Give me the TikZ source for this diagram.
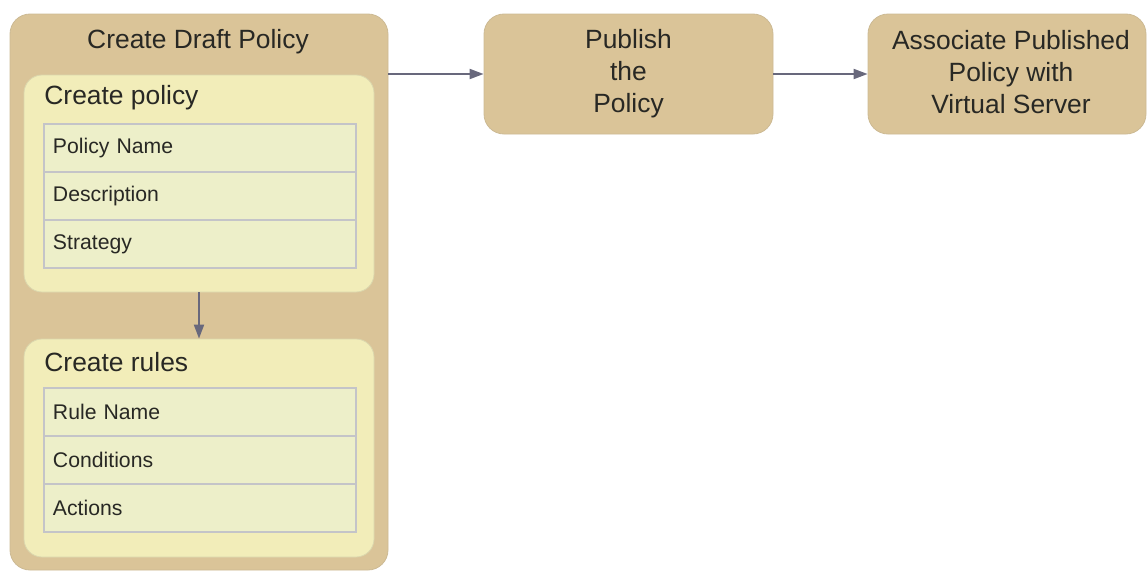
\documentclass[tikz,border=0pt]{standalone}
\usepackage{fontspec}
\setmainfont{Liberation Sans}
\usetikzlibrary{arrows.meta}
\definecolor{tan}{RGB}{218,196,152}
\definecolor{paleyellow}{RGB}{242,237,185}
\definecolor{cellfill}{RGB}{237,239,201}
\definecolor{cellline}{RGB}{196,196,200}
\definecolor{flowgray}{RGB}{104,104,124}
\definecolor{inkgray}{RGB}{40,40,36}
\tikzset{
  stage/.style={shape=rectangle,rounded corners=10pt,fill=tan,draw=tan!85!gray,line width=0.4pt,
    align=center,text=inkgray,font=\fontsize{13.2}{16}\selectfont},
  substage/.style={shape=rectangle,rounded corners=9pt,fill=paleyellow,draw=paleyellow!80!gray,
    line width=0.4pt,minimum width=175pt},
  cell/.style={shape=rectangle,fill=cellfill,draw=cellline,line width=0.6pt,minimum width=156pt,
    minimum height=24pt,inner xsep=4.5pt,text width=147pt,align=left,text=inkgray,
    font=\fontsize{10.6}{12}\selectfont},
  heading/.style={inner sep=0pt,text=inkgray,font=\fontsize{13.2}{16}\selectfont},
  flow/.style={draw=flowgray,line width=1pt,-{Triangle[length=7pt,width=5pt]}}
}
\begin{document}
\begin{tikzpicture}[x=0.5pt,y=-0.5pt]
                    \useasboundingbox (0,0) rectangle (1147,573);
                    \node[stage,minimum width=189pt,minimum height=278pt] (draft) at (199,292) {};
                    \node[heading] (drafttitle) at (198,42) {Create Draft Policy};

                    \node[substage,minimum height=108.5pt] (policy) at (199,183.5) {};
                    \node[heading,anchor=west] (policytitle) at (44,98) {Create policy};
                    \node[cell] (policyname) at (200,148) {Policy Name};
                    \node[cell] (description) at (200,196) {Description};
                    \node[cell] (strategy) at (200,244) {Strategy};

                    \node[substage,minimum height=109pt] (rules) at (199,448) {};
                    \node[heading,anchor=west] (rulestitle) at (44,362) {Create rules};
                    \node[cell] (rulename) at (200,412) {Rule Name};
                    \node[cell] (conditions) at (200,460) {Conditions};
                    \node[cell] (actions) at (200,508) {Actions};

                    \node[stage,minimum width=144.5pt,minimum height=60pt] (publish) at (628.5,74) {Publish\\the\\Policy};
                    \node[stage,minimum width=139pt,minimum height=60pt] (associate) at (1007,74) {};
                    \node[align=center,text=inkgray,font=\fontsize{13.2}{16}\selectfont] (associatetext) at (1011,72) {Associate Published\\Policy with\\Virtual Server};

                    \draw[flow] (policy) -- (rules);
                    \draw[flow] (draft.east |- publish.west) -- (publish);
                    \draw[flow] (publish) -- (associate);
                \end{tikzpicture}
\end{document}
